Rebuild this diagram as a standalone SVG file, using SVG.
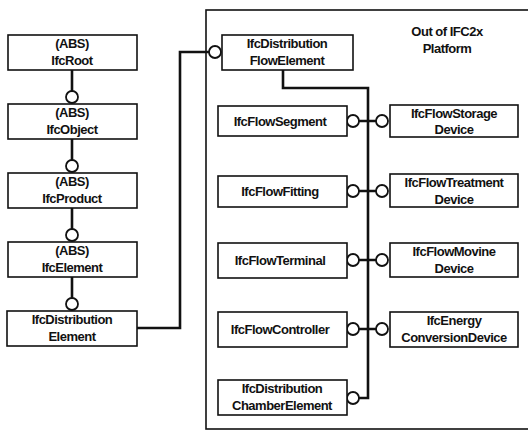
<svg xmlns="http://www.w3.org/2000/svg" width="528" height="431" viewBox="0 0 528 431">
<style>
.box{fill:#fff;stroke:#111;stroke-width:1.6}
.t{font-family:"Liberation Sans",Arial,sans-serif;font-weight:bold;font-size:13px;fill:#111;text-anchor:middle;letter-spacing:-0.5px}
.ln{fill:none;stroke:#111;stroke-width:2.6}
.c{fill:#fff;stroke:#111;stroke-width:1.8}
.frame{fill:none;stroke:#111;stroke-width:1.6}
</style>
<rect width="528" height="431" fill="#fff"/>
<rect class="frame" x="206" y="10" width="340" height="419"/>
<text class="t" x="447" y="36">Out of IFC2x</text>
<text class="t" x="447" y="53">Platform</text>
<g id="connectors">
<path class="ln" d="M72 70V91M72 139V160M72 208V229M72 277V298"/>
<path class="ln" d="M137 328H180V52H209"/>
<path class="ln" d="M283 70V88H368V398H359"/>
<path class="ln" d="M359 121H376M359 191H376M359 260H376M359 329H376"/>
<circle class="c" cx="72" cy="97" r="6"/>
<circle class="c" cx="72" cy="166" r="6"/>
<circle class="c" cx="72" cy="235" r="6"/>
<circle class="c" cx="72" cy="304" r="6"/>
<circle class="c" cx="215" cy="52" r="6"/>
<circle class="c" cx="353" cy="121" r="6"/>
<circle class="c" cx="382" cy="121" r="6"/>
<circle class="c" cx="353" cy="191" r="6"/>
<circle class="c" cx="382" cy="191" r="6"/>
<circle class="c" cx="353" cy="260" r="6"/>
<circle class="c" cx="382" cy="260" r="6"/>
<circle class="c" cx="353" cy="329" r="6"/>
<circle class="c" cx="382" cy="329" r="6"/>
<circle class="c" cx="353" cy="398" r="6"/>
</g>
<g id="IfcRoot"><rect class="box" x="8" y="35" width="129" height="35"/><text class="t" x="72" y="48">(ABS)</text><text class="t" x="72" y="65">IfcRoot</text></g>
<g id="IfcObject"><rect class="box" x="8" y="104" width="129" height="35"/><text class="t" x="72" y="117">(ABS)</text><text class="t" x="72" y="134">IfcObject</text></g>
<g id="IfcProduct"><rect class="box" x="8" y="173" width="129" height="35"/><text class="t" x="72" y="186">(ABS)</text><text class="t" x="72" y="203">IfcProduct</text></g>
<g id="IfcElement"><rect class="box" x="8" y="242" width="129" height="35"/><text class="t" x="72" y="255">(ABS)</text><text class="t" x="72" y="272">IfcElement</text></g>
<g id="IfcDistributionElement"><rect class="box" x="7" y="311" width="130" height="35"/><text class="t" x="72" y="324">IfcDistribution</text><text class="t" x="72" y="341">Element</text></g>
<g id="IfcDistributionFlowElement"><rect class="box" x="222" y="35" width="131" height="35"/><text class="t" x="287" y="48">IfcDistribution</text><text class="t" x="287" y="65">FlowElement</text></g>
<g id="IfcFlowSegment"><rect class="box" x="218" y="106" width="129" height="30"/><text class="t" x="280" y="126">IfcFlowSegment</text></g>
<g id="IfcFlowFitting"><rect class="box" x="218" y="176" width="129" height="31"/><text class="t" x="280" y="196">IfcFlowFitting</text></g>
<g id="IfcFlowTerminal"><rect class="box" x="218" y="243" width="129" height="35"/><text class="t" x="280" y="265">IfcFlowTerminal</text></g>
<g id="IfcFlowController"><rect class="box" x="218" y="312" width="129" height="35"/><text class="t" x="280" y="334">IfcFlowController</text></g>
<g id="IfcDistributionChamberElement"><rect class="box" x="218" y="380" width="129" height="35"/><text class="t" x="282" y="393">IfcDistribution</text><text class="t" x="282" y="410">ChamberElement</text></g>
<g id="IfcFlowStorageDevice"><rect class="box" x="390" y="105" width="128" height="32"/><text class="t" x="454" y="118">IfcFlowStorage</text><text class="t" x="454" y="134">Device</text></g>
<g id="IfcFlowTreatmentDevice"><rect class="box" x="390" y="174" width="128" height="33"/><text class="t" x="454" y="187">IfcFlowTreatment</text><text class="t" x="454" y="204">Device</text></g>
<g id="IfcFlowMovineDevice"><rect class="box" x="390" y="243" width="128" height="34"/><text class="t" x="454" y="256">IfcFlowMovine</text><text class="t" x="454" y="273">Device</text></g>
<g id="IfcEnergyConversionDevice"><rect class="box" x="390" y="312" width="128" height="35"/><text class="t" x="454" y="325">IfcEnergy</text><text class="t" x="454" y="342">ConversionDevice</text></g>
</svg>
